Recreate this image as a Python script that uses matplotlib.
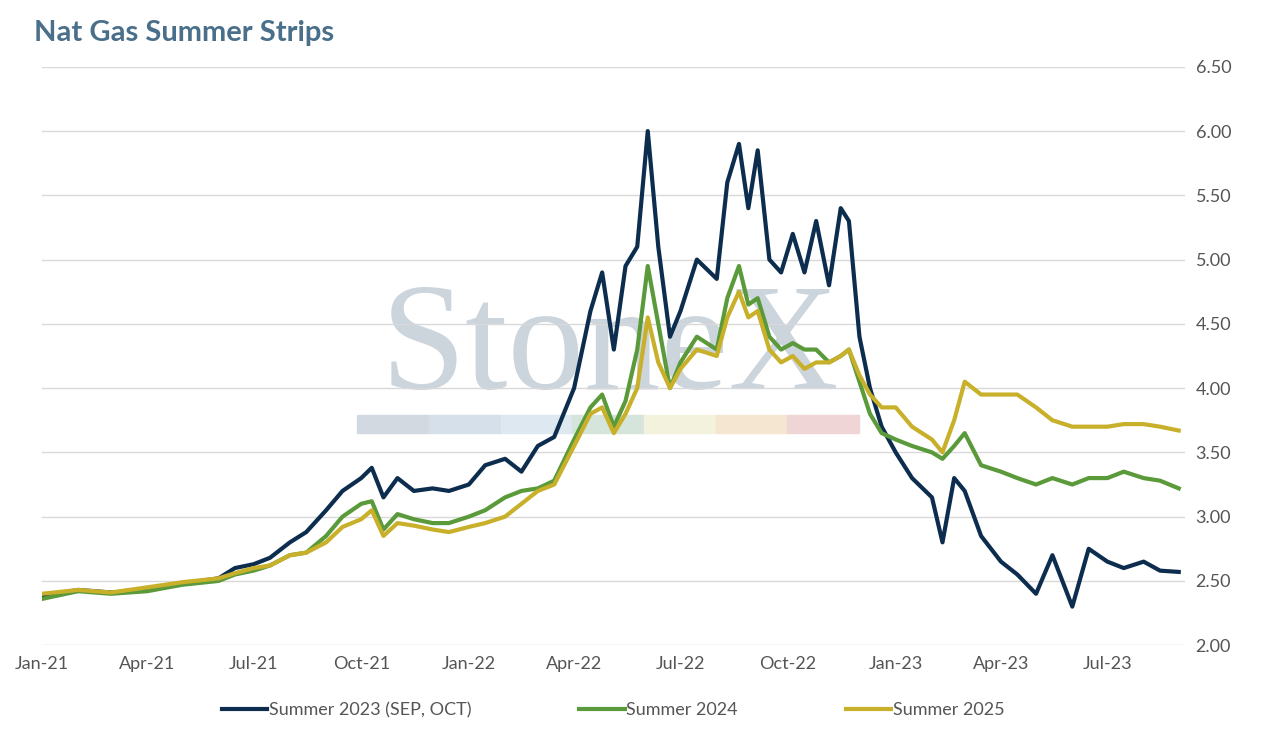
import matplotlib
matplotlib.use("Agg")
import matplotlib.pyplot as plt
import matplotlib.dates as mdates
import pandas as pd

dates = ["2021-01-01","2021-02-01","2021-03-01","2021-04-01","2021-05-01","2021-06-01","2021-06-15","2021-07-01","2021-07-15","2021-08-01","2021-08-15","2021-09-01","2021-09-15","2021-10-01","2021-10-10","2021-10-20","2021-11-01","2021-11-15","2021-12-01","2021-12-15","2022-01-01","2022-01-15","2022-02-01","2022-02-15","2022-03-01","2022-03-15","2022-04-01","2022-04-15","2022-04-25","2022-05-05","2022-05-15","2022-05-25","2022-06-03","2022-06-12","2022-06-22","2022-07-01","2022-07-15","2022-08-01","2022-08-10","2022-08-20","2022-08-28","2022-09-05","2022-09-15","2022-09-25","2022-10-05","2022-10-15","2022-10-25","2022-11-05","2022-11-15","2022-11-22","2022-12-01","2022-12-10","2022-12-20","2023-01-01","2023-01-15","2023-02-01","2023-02-10","2023-02-20","2023-03-01","2023-03-15","2023-04-01","2023-04-15","2023-05-01","2023-05-15","2023-06-01","2023-06-15","2023-07-01","2023-07-15","2023-08-01","2023-08-15","2023-08-31"]
s2023 = [2.38,2.43,2.41,2.43,2.48,2.52,2.60,2.63,2.68,2.80,2.88,3.05,3.20,3.30,3.38,3.15,3.30,3.20,3.22,3.20,3.25,3.40,3.45,3.35,3.55,3.62,4.00,4.60,4.90,4.30,4.95,5.10,6.00,5.10,4.40,4.60,5.00,4.85,5.60,5.90,5.40,5.85,5.00,4.90,5.20,4.90,5.30,4.80,5.40,5.30,4.40,4.00,3.70,3.50,3.30,3.15,2.80,3.30,3.20,2.85,2.65,2.55,2.40,2.70,2.30,2.75,2.65,2.60,2.65,2.58,2.57]
s2024 = [2.36,2.42,2.40,2.42,2.47,2.50,2.55,2.58,2.62,2.70,2.72,2.85,3.00,3.10,3.12,2.90,3.02,2.98,2.95,2.95,3.00,3.05,3.15,3.20,3.22,3.28,3.60,3.85,3.95,3.70,3.90,4.30,4.95,4.50,4.00,4.20,4.40,4.30,4.70,4.95,4.65,4.70,4.40,4.30,4.35,4.30,4.30,4.20,4.25,4.30,4.05,3.80,3.65,3.60,3.55,3.50,3.45,3.55,3.65,3.40,3.35,3.30,3.25,3.30,3.25,3.30,3.30,3.35,3.30,3.28,3.22]
s2025 = [2.40,2.43,2.41,2.45,2.49,2.52,2.56,2.60,2.62,2.70,2.72,2.80,2.92,2.98,3.05,2.85,2.95,2.93,2.90,2.88,2.92,2.95,3.00,3.10,3.20,3.25,3.55,3.80,3.85,3.65,3.80,4.00,4.55,4.20,4.00,4.15,4.30,4.25,4.55,4.75,4.55,4.60,4.30,4.20,4.25,4.15,4.20,4.20,4.25,4.30,4.10,3.95,3.85,3.85,3.70,3.60,3.50,3.75,4.05,3.95,3.95,3.95,3.85,3.75,3.70,3.70,3.70,3.72,3.72,3.70,3.67]
labels = ["Summer 2023 (SEP, OCT)", "Summer 2024", "Summer 2025"]
colors = ["#0d2d4f", "#5a9a3a", "#c8b02a"]
yticks = [2.0,2.5,3.0,3.5,4.0,4.5,5.0,5.5,6.0,6.5]

plt.rcParams['font.family'] = ['Lato', 'DejaVu Sans']
fig = plt.figure(figsize=(12.71, 7.34), dpi=100)
ax = fig.add_axes([0.033, 0.121, 0.899, 0.788])
d = pd.to_datetime(dates)

# watermark (behind lines)
ax.text(0.48, 0.52, "StoneX", fontsize=110, family="Liberation Serif", color="#ccd4dc",
        ha="center", va="center", zorder=0, transform=fig.transFigure)
wc = ["#d3d9e0", "#d6e0ea", "#dde8f0", "#d5e5dc", "#f3f2dc", "#f5e6d2", "#efd5d6"]
for i, c in enumerate(wc):
    ax.add_patch(plt.Rectangle((0.281 + i*0.0564, 0.41), 0.0564, 0.025,
                               transform=fig.transFigure, color=c, zorder=0.5))

for s, l, c in zip([s2023, s2024, s2025], labels, colors):
    ax.plot(d, s, color=c, lw=3, label=l, zorder=3)

ax.set_ylim(2.0, 6.5)
ax.set_yticks(yticks)
ax.set_yticklabels([f"{v:.2f}" for v in yticks])
ax.yaxis.tick_right()
ax.set_xlim(pd.Timestamp("2021-01-01"), pd.Timestamp("2023-09-05"))
ax.xaxis.set_major_locator(mdates.MonthLocator(bymonth=[1,4,7,10]))
ax.xaxis.set_major_formatter(mdates.DateFormatter("%b-%y"))
ax.grid(axis="y", color="#d9d9d9", lw=1, zorder=0.2)
ax.set_axisbelow(True)
for sp in ax.spines.values():
    sp.set_visible(False)
ax.tick_params(length=0, labelsize=13, colors="#555555", pad=8)
fig.text(0.027, 0.955, "Nat Gas Summer Strips", fontsize=21, fontweight="bold", color="#4a6f8a", va="center")
ax.legend(loc="upper center", bbox_to_anchor=(0.5, -0.07), ncol=3, frameon=False, fontsize=13,
          handlelength=2.5, handletextpad=0.1, columnspacing=6, labelcolor="#555555")
fig.savefig("out.png", dpi=100)
